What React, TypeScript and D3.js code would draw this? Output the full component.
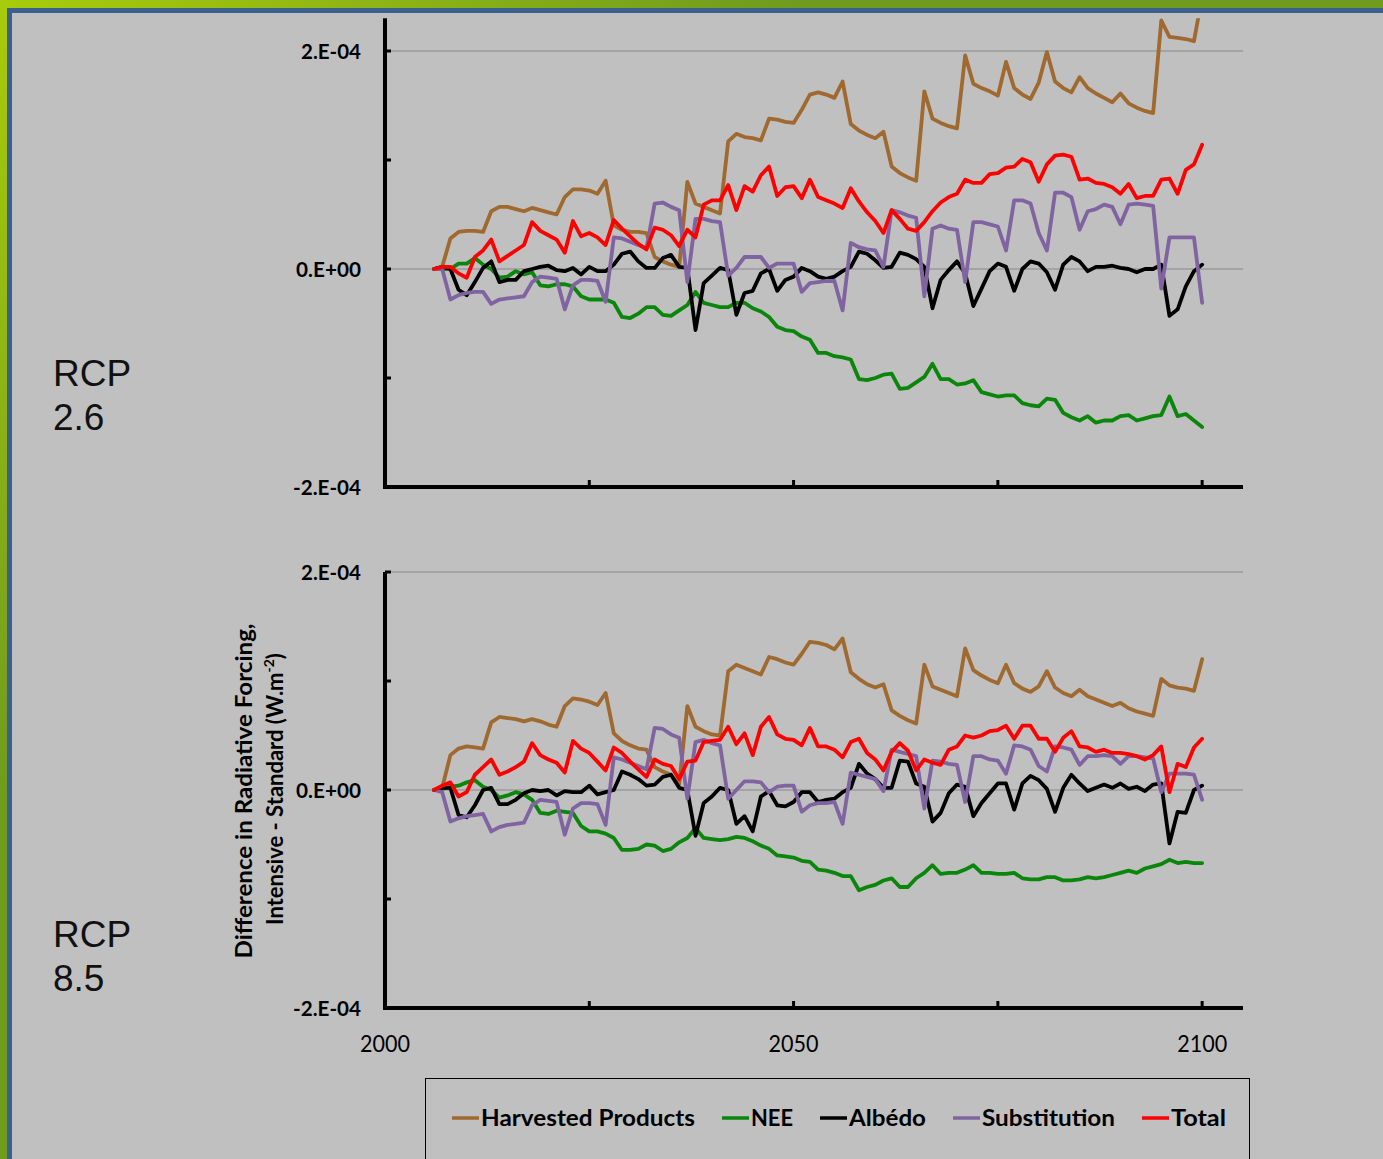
import React from "react";
import { scaleLinear, line, range } from "d3";

// values are in units of 1e-4 W.m-2, one per year 2006..2100
const years = range(2006, 2101);

const seriesNames = ["Harvested Products", "NEE", "Albédo", "Substitution", "Total"];
const seriesColors = ["#a0692f", "#0a860a", "#000000", "#8064a2", "#ff0000"];

const yTickValues = [-2, 0, 2];
const yTickLabels = ["-2.E-04", "0.E+00", "2.E-04"];
const yTickLabelW = [68, 65, 60];
const yMinorTicks = [-1, 1];
const gridValues = [0, 2];
const xTickValues = [2025, 2050, 2075, 2100];
const xLabelValues = [2000, 2050, 2100];

// RCP 2.6
const hpTop = [
  0, 0.02, 0.28, 0.34, 0.35, 0.35, 0.34, 0.53, 0.57, 0.57,
  0.55, 0.53, 0.56, 0.54, 0.52, 0.5, 0.66, 0.73, 0.73, 0.72,
  0.69, 0.81, 0.4, 0.36, 0.34, 0.34, 0.33, 0.11, 0.07, 0.04,
  0.02, 0.8, 0.6, 0.57, 0.54, 0.51, 1.17, 1.24, 1.21, 1.2,
  1.18, 1.38, 1.37, 1.35, 1.34, 1.46, 1.6, 1.62, 1.6, 1.57,
  1.72, 1.33, 1.27, 1.23, 1.2, 1.26, 0.94, 0.88, 0.84, 0.81,
  1.63, 1.38, 1.34, 1.31, 1.29, 1.96, 1.7, 1.66, 1.63, 1.59,
  1.9, 1.66, 1.6, 1.56, 1.71, 1.99, 1.72, 1.66, 1.62, 1.76,
  1.66, 1.61, 1.57, 1.53, 1.61, 1.52, 1.48, 1.45, 1.43, 2.28,
  2.13, 2.12, 2.11, 2.09, 2.5,
];
const neeTop = [
  0, 0, 0, 0.05, 0.05, 0.1, 0.04, 0, -0.08, -0.07,
  -0.02, -0.05, -0.03, -0.15, -0.16, -0.14, -0.14, -0.16, -0.25, -0.28,
  -0.28, -0.28, -0.31, -0.44, -0.45, -0.41, -0.35, -0.35, -0.42, -0.43,
  -0.38, -0.33, -0.21, -0.31, -0.33, -0.35, -0.35, -0.31, -0.31, -0.36,
  -0.39, -0.44, -0.53, -0.56, -0.57, -0.62, -0.65, -0.77, -0.77, -0.8,
  -0.81, -0.83, -1.01, -1.02, -1.0, -0.97, -0.96, -1.1, -1.09, -1.04,
  -0.99, -0.87, -1.01, -1.01, -1.06, -1.05, -1.02, -1.13, -1.15, -1.17,
  -1.16, -1.16, -1.23, -1.25, -1.26, -1.19, -1.2, -1.32, -1.36, -1.39,
  -1.35, -1.41, -1.39, -1.39, -1.35, -1.34, -1.39, -1.37, -1.35, -1.34,
  -1.17, -1.35, -1.33, -1.39, -1.45,
];
const albTop = [
  0, 0.02, 0, -0.19, -0.24, -0.12, 0.01, 0.07, -0.12, -0.1,
  -0.1, -0.02, 0, 0.02, 0.03, -0.01, -0.02, 0.01, -0.05, 0.02,
  -0.02, -0.02, 0.04, 0.14, 0.16, 0.07, 0.01, 0.01, 0.1, 0.13,
  0.02, 0.01, -0.56, -0.13, -0.06, 0.01, -0.01, -0.42, -0.22, -0.2,
  -0.04, 0, -0.2, -0.1, -0.07, 0.01, -0.02, -0.07, -0.09, -0.07,
  -0.02, 0.02, 0.16, 0.14, 0.08, 0.01, 0.02, 0.15, 0.13, 0.09,
  0.02, -0.36, -0.1, -0.01, 0.07, -0.04, -0.34, -0.18, -0.02, 0.05,
  0.02, -0.2, 0, 0.07, 0.05, -0.03, -0.19, 0.04, 0.11, 0.07,
  -0.02, 0.02, 0.02, 0.03, 0.01, 0, -0.03, 0, 0, 0.04,
  -0.43, -0.37, -0.16, -0.02, 0.04,
];
const subTop = [
  0, 0, -0.28, -0.24, -0.22, -0.21, -0.21, -0.32, -0.28, -0.27,
  -0.26, -0.25, -0.12, -0.07, -0.08, -0.09, -0.37, -0.15, -0.1, -0.1,
  -0.11, -0.3, 0.29, 0.28, 0.25, 0.22, 0.19, 0.6, 0.61, 0.57,
  0.54, -0.12, 0.46, 0.46, 0.44, 0.43, -0.06, 0.01, 0.11, 0.11,
  0.11, 0.01, 0.05, 0.05, 0.05, -0.21, -0.13, -0.12, -0.11, -0.11,
  -0.38, 0.24, 0.2, 0.18, 0.17, 0.02, 0.54, 0.52, 0.49, 0.47,
  -0.25, 0.37, 0.4, 0.37, 0.36, -0.12, 0.43, 0.43, 0.41, 0.39,
  0.17, 0.63, 0.63, 0.6, 0.33, 0.17, 0.7, 0.7, 0.66, 0.36,
  0.53, 0.55, 0.59, 0.57, 0.41, 0.59, 0.6, 0.59, 0.58, -0.18,
  0.29, 0.29, 0.29, 0.29, -0.31,
];
const totTop = [
  0, 0.02, 0.02, -0.04, -0.08, 0.11, 0.17, 0.27, 0.07, 0.12,
  0.17, 0.22, 0.43, 0.35, 0.31, 0.27, 0.15, 0.44, 0.3, 0.33,
  0.29, 0.22, 0.45, 0.37, 0.3, 0.23, 0.18, 0.38, 0.36, 0.31,
  0.21, 0.36, 0.29, 0.59, 0.63, 0.63, 0.77, 0.54, 0.76, 0.71,
  0.86, 0.94, 0.67, 0.75, 0.76, 0.65, 0.82, 0.66, 0.63, 0.6,
  0.56, 0.74, 0.62, 0.52, 0.44, 0.33, 0.54, 0.46, 0.37, 0.35,
  0.43, 0.53, 0.61, 0.66, 0.69, 0.82, 0.79, 0.79, 0.87, 0.88,
  0.93, 0.94, 1.01, 0.98, 0.8, 0.96, 1.04, 1.05, 1.03, 0.82,
  0.83, 0.79, 0.78, 0.75, 0.69, 0.78, 0.65, 0.67, 0.67, 0.82,
  0.83, 0.69, 0.91, 0.96, 1.14,
];

// RCP 8.5
const hpBot = [
  0, 0.02, 0.32, 0.38, 0.4, 0.39, 0.38, 0.62, 0.67, 0.66,
  0.65, 0.63, 0.65, 0.63, 0.6, 0.58, 0.77, 0.84, 0.83, 0.81,
  0.78, 0.89, 0.52, 0.45, 0.41, 0.38, 0.37, 0.21, 0.17, 0.14,
  0.05, 0.77, 0.58, 0.54, 0.51, 0.5, 1.09, 1.15, 1.12, 1.09,
  1.06, 1.22, 1.2, 1.17, 1.15, 1.25, 1.36, 1.35, 1.33, 1.29,
  1.39, 1.08, 1.02, 0.97, 0.94, 0.97, 0.73, 0.68, 0.64, 0.61,
  1.15, 0.95, 0.92, 0.89, 0.86, 1.3, 1.1, 1.05, 1.01, 0.98,
  1.15, 0.98, 0.93, 0.9, 0.95, 1.09, 0.94, 0.89, 0.86, 0.92,
  0.86, 0.83, 0.8, 0.77, 0.8, 0.75, 0.72, 0.7, 0.68, 1.02,
  0.96, 0.94, 0.93, 0.91, 1.2,
];
const neeBot = [
  0, 0.01, 0.03, 0.04, 0.07, 0.09, 0.03, 0, -0.07, -0.05,
  -0.02, -0.04, -0.09, -0.21, -0.22, -0.19, -0.2, -0.21, -0.33, -0.38,
  -0.38, -0.4, -0.44, -0.55, -0.55, -0.54, -0.5, -0.51, -0.56, -0.54,
  -0.48, -0.44, -0.35, -0.44, -0.45, -0.46, -0.45, -0.43, -0.44, -0.47,
  -0.51, -0.54, -0.6, -0.61, -0.62, -0.65, -0.66, -0.73, -0.74, -0.76,
  -0.79, -0.79, -0.92, -0.89, -0.87, -0.83, -0.81, -0.89, -0.89, -0.81,
  -0.76, -0.69, -0.77, -0.76, -0.76, -0.73, -0.69, -0.76, -0.76, -0.77,
  -0.77, -0.76, -0.81, -0.82, -0.82, -0.8, -0.8, -0.83, -0.83, -0.82,
  -0.8, -0.81, -0.8, -0.78, -0.76, -0.74, -0.76, -0.72, -0.7, -0.68,
  -0.64, -0.67, -0.66, -0.67, -0.67,
];
const albBot = [
  0, 0.02, 0.02, -0.23, -0.25, -0.14, 0, 0.02, -0.13, -0.13,
  -0.09, -0.03, 0, -0.01, 0, -0.05, -0.01, -0.02, -0.02, 0.04,
  -0.04, -0.02, 0, 0.17, 0.14, 0.1, 0.04, 0.05, 0.12, 0.14,
  0.02, 0, -0.42, -0.12, -0.06, 0.02, 0, -0.31, -0.24, -0.38,
  -0.06, -0.01, -0.14, -0.15, -0.11, -0.02, -0.02, -0.11, -0.09, -0.08,
  -0.02, 0.02, 0.24, 0.15, 0.1, 0.02, 0.02, 0.27, 0.26, 0.06,
  0.03, -0.29, -0.21, -0.03, 0.05, 0.03, -0.24, -0.12, -0.03, 0.06,
  0.06, -0.18, 0.06, 0.13, 0.09, 0.01, -0.2, 0.02, 0.14, 0.06,
  -0.01, 0.02, 0.05, 0.02, 0.06, 0.01, 0.03, -0.01, 0.05, 0.06,
  -0.49, -0.2, -0.21, 0, 0.04,
];
const subBot = [
  0, -0.02, -0.29, -0.26, -0.24, -0.23, -0.22, -0.38, -0.34, -0.32,
  -0.31, -0.3, -0.14, -0.09, -0.1, -0.11, -0.41, -0.17, -0.12, -0.12,
  -0.13, -0.32, 0.3, 0.28, 0.25, 0.22, 0.19, 0.57, 0.56, 0.51,
  0.48, -0.08, 0.44, 0.46, 0.43, 0.41, -0.08, 0, 0.08, 0.08,
  0.07, -0.02, 0.03, 0.04, 0.04, -0.2, -0.14, -0.12, -0.12, -0.11,
  -0.31, 0.16, 0.14, 0.12, 0.1, -0.01, 0.37, 0.35, 0.33, 0.31,
  -0.17, 0.27, 0.26, 0.24, 0.23, -0.11, 0.31, 0.31, 0.28, 0.27,
  0.15, 0.41, 0.4, 0.37, 0.22, 0.17, 0.4, 0.39, 0.37, 0.23,
  0.31, 0.31, 0.32, 0.31, 0.24, 0.31, 0.31, 0.3, 0.29, -0.02,
  0.15, 0.15, 0.15, 0.14, -0.09,
];
const totBot = [
  0, 0.04, 0.07, -0.06, -0.02, 0.14, 0.21, 0.28, 0.14, 0.17,
  0.21, 0.26, 0.43, 0.32, 0.28, 0.25, 0.16, 0.45, 0.38, 0.34,
  0.26, 0.18, 0.39, 0.34, 0.26, 0.19, 0.12, 0.28, 0.24, 0.22,
  0.1, 0.26, 0.27, 0.44, 0.45, 0.46, 0.58, 0.42, 0.52, 0.32,
  0.58, 0.67, 0.51, 0.47, 0.46, 0.41, 0.57, 0.4, 0.4, 0.37,
  0.3, 0.44, 0.47, 0.34, 0.28, 0.18, 0.35, 0.43, 0.36, 0.18,
  0.28, 0.25, 0.23, 0.37, 0.4, 0.5, 0.48, 0.5, 0.54, 0.55,
  0.59, 0.47, 0.59, 0.59, 0.47, 0.47, 0.35, 0.48, 0.54, 0.4,
  0.39, 0.35, 0.37, 0.34, 0.34, 0.33, 0.31, 0.28, 0.32, 0.4,
  -0.02, 0.24, 0.21, 0.39, 0.47,
];

const W = 1383;
const H = 1159;
const uiFont = "Lato, 'Open Sans', sans-serif";
const rcpFont = "'Liberation Sans', Arial, sans-serif";

const x = scaleLinear().domain([2000, 2105]).range([385, 1243]);

type PanelProps = {
  id: string;
  domain: [number, number];
  rangeY: [number, number];
  series: number[][];
  showXLabels: boolean;
};

function Panel({ id, domain, rangeY, series, showXLabels }: PanelProps) {
  const y = scaleLinear().domain(domain).range(rangeY);
  const x0 = x.range()[0];
  const x1 = x.range()[1];
  const yBottom = y(domain[0]);
  const yTop = y(domain[1]);

  const path = line<number>()
    .x((_, i) => x(years[i]))
    .y((d) => y(d));

  return (
    <g>
      <defs>
        <clipPath id={id}>
          <rect x={x0} y={yTop} width={x1 - x0} height={yBottom - yTop} />
        </clipPath>
      </defs>

      {/* gridlines */}
      {gridValues.map((v) => (
        <line key={v} x1={x0 + 2} x2={x1} y1={y(v)} y2={y(v)} stroke="#878787" strokeWidth={1.2} />
      ))}

      {/* series */}
      <g clipPath={`url(#${id})`}>
        {series.map((s, k) => (
          <path
            key={k}
            d={path(s) || ""}
            fill="none"
            stroke={seriesColors[k]}
            strokeWidth={3.8}
            strokeLinejoin="round"
            strokeLinecap="round"
          />
        ))}
      </g>

      {/* y axis */}
      <line x1={x0} x2={x0} y1={yTop} y2={yBottom + 2} stroke="#000" strokeWidth={4} />
      {[...yTickValues, ...yMinorTicks].map((v) => (
        <line key={v} x1={x0} x2={x0 + 6} y1={y(v)} y2={y(v)} stroke="#000" strokeWidth={3} />
      ))}
      {yTickValues.map((v, i) => (
        <text
          key={v}
          x={361}
          y={y(v)}
          textAnchor="end"
          dominantBaseline="central"
          fontFamily={uiFont}
          fontWeight="bold"
          fontSize={20}
          textLength={yTickLabelW[i]}
          lengthAdjust="spacingAndGlyphs"
          fill="#000"
        >
          {yTickLabels[i]}
        </text>
      ))}

      {/* x axis */}
      <line x1={x0 - 2} x2={x1} y1={yBottom} y2={yBottom} stroke="#000" strokeWidth={4} />
      {xTickValues.map((v) => (
        <line key={v} x1={x(v)} x2={x(v)} y1={yBottom} y2={yBottom - 7} stroke="#000" strokeWidth={3} />
      ))}
      {showXLabels &&
        xLabelValues.map((v) => (
          <text
            key={v}
            x={x(v)}
            y={yBottom + 44}
            textAnchor="middle"
            fontFamily={uiFont}
            fontSize={23}
            textLength={50}
            lengthAdjust="spacingAndGlyphs"
            fill="#000"
          >
            {v}
          </text>
        ))}
    </g>
  );
}

const legendLineX = [452, 722, 820, 953, 1142];
const legendTextX = [481, 751, 849, 982, 1171];
const legendTextW = [214, 42, 77, 133, 55];

export default function App() {
  return (
    <svg width={W} height={H} style={{ position: "absolute", left: 0, top: 0, display: "block" }}>
      <defs>
        <linearGradient id="frame" x1="0" y1="0" x2="400" y2="400" gradientUnits="userSpaceOnUse">
          <stop offset="0" stopColor="#a9cb0c" />
          <stop offset="1" stopColor="#6f9b1f" />
        </linearGradient>
      </defs>
      <rect x={0} y={0} width={W} height={H} fill="#c0c0c0" />
      {/* slide frame */}
      <rect x={0} y={0} width={W} height={8} fill="url(#frame)" />
      <rect x={0} y={0} width={7} height={H} fill="url(#frame)" />
      <rect x={7} y={8} width={W - 7} height={5} fill="#3b5f8e" />
      <rect x={7} y={8} width={5} height={H - 8} fill="#3b5f8e" />

      <Panel
        id="clipTop"
        domain={[-2, 2.3]}
        rangeY={[487, 487 - 4.3 * 109]}
        series={[hpTop, neeTop, albTop, subTop, totTop]}
        showXLabels={false}
      />
      <Panel
        id="clipBot"
        domain={[-2, 2]}
        rangeY={[1008, 572]}
        series={[hpBot, neeBot, albBot, subBot, totBot]}
        showXLabels={true}
      />

      {/* scenario labels */}
      {[
        ["RCP", 386],
        ["2.6", 430],
        ["RCP", 947],
        ["8.5", 991],
      ].map(([t, yy], i) => (
        <text key={i} x={53} y={yy as number} fontFamily={rcpFont} fontSize={37} fill="#111">
          {t}
        </text>
      ))}

      {/* y axis title */}
      <text
        transform="translate(252,791) rotate(-90)"
        textAnchor="middle"
        fontFamily={uiFont}
        fontWeight="bold"
        fontSize={22}
        textLength={335}
        lengthAdjust="spacingAndGlyphs"
        fill="#000"
      >
        Difference in Radiative Forcing,
      </text>
      <text
        transform="translate(283,789) rotate(-90)"
        textAnchor="middle"
        fontFamily={uiFont}
        fontWeight="bold"
        fontSize={22}
        fill="#000"
      >
        Intensive - Standard (W.m
        <tspan fontSize={14} dy={-9}>-2</tspan>
        <tspan dy={9}>)</tspan>
      </text>

      {/* legend */}
      <rect x={425.5} y={1078.5} width={824} height={100} fill="none" stroke="#000" strokeWidth={1} />
      {seriesNames.map((name, i) => (
        <g key={name}>
          <line
            x1={legendLineX[i]}
            x2={legendLineX[i] + 27}
            y1={1118}
            y2={1118}
            stroke={seriesColors[i]}
            strokeWidth={3.5}
          />
          <text
            x={legendTextX[i]}
            y={1126}
            fontFamily={uiFont}
            fontWeight="bold"
            fontSize={23}
            textLength={legendTextW[i]}
            lengthAdjust="spacingAndGlyphs"
            fill="#000"
          >
            {name}
          </text>
        </g>
      ))}
    </svg>
  );
}
